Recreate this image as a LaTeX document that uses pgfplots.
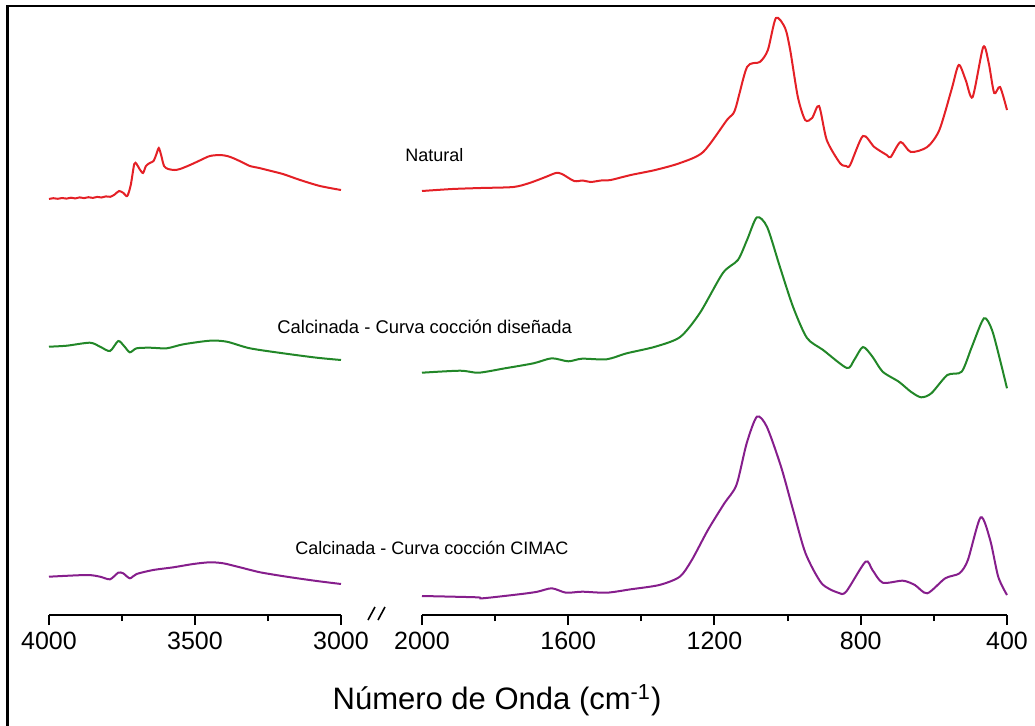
\documentclass[border=0pt]{standalone}
\usepackage{fontspec}
\setmainfont{Liberation Sans}
\usepackage{pgfplots}
\pgfplotsset{compat=1.18}

\definecolor{cnat}{RGB}{228,32,38}
\definecolor{cdis}{RGB}{34,135,40}
\definecolor{ccim}{RGB}{134,30,140}

\pgfplotsset{
  ftir/.style={
    scale only axis, height=304.5pt, ymin=0, ymax=609,
    x dir=reverse, clip=false,
    axis y line=none, axis x line*=bottom,
    axis line style={line width=1pt, black},
    tick align=outside, major tick length=5pt, minor tick length=3pt,
    tick style={line width=1pt, black},
    /pgf/number format/assume math mode=true,
    /pgf/number format/1000 sep={},
    xticklabel style={font=\fontsize{12.5}{14}\selectfont},
    every axis plot/.append style={line width=1pt, smooth, tension=0.45},
  }
}

\begin{document}
\begin{tikzpicture}
\useasboundingbox (0,0) rectangle (517.5pt,362.5pt);

% zona 4000-3000
\begin{axis}[ftir, at={(24.5pt,55pt)}, anchor=south west, width=146pt,
  xmin=3000, xmax=4000, xtick={3000,3500,4000}, minor xtick={3250,3750}]
\addplot[cnat] table {
4000 416
3985 416.8
3970 416.2
3955 417
3940 416.4
3925 417.3
3910 416.6
3895 417.6
3880 416.9
3865 417.8
3850 417.1
3835 418.1
3820 417.5
3805 418.6
3790 418.2
3775 420.5
3760 424
3745 422
3732 419
3720 430
3708 451
3700 451
3690 446
3678 442
3668 449
3655 452
3642 454
3632 461
3624 467
3616 460
3606 449
3592 446
3570 445
3551 446
3517 450
3480 455
3449 459
3414 460
3390 459
3370 457
3340 453
3312 449
3280 447
3253 445
3199 441
3140 435
3072 429
3000 425
};
\addplot[cdis] table {
4000 268.3
3939 269.3
3860 272.3
3825 268.3
3791 264
3763 274
3743 269
3723 262.7
3700 266.7
3654 267.3
3597 266.7
3540 270.7
3449 274.3
3391 273.3
3312 266.7
3198 261.7
3083 257.3
3000 255
};
\addplot[ccim] table {
4000 38.3
3871 40
3825 38.3
3791 35.7
3763 42.3
3746 41.7
3723 36.7
3700 41
3643 45
3574 47.7
3506 51
3449 52.7
3403 51.7
3346 47.7
3277 42.7
3186 38.3
3083 34
3000 31
};
\end{axis}

% zona 2000-400
\begin{axis}[ftir, at={(211pt,55pt)}, anchor=south west, width=292.5pt,
  xmin=400, xmax=2000, xtick={2000,1600,1200,800,400},
  minor xtick={1800,1400,1000,600}]
\addplot[cnat] table {
2000 424
1917 426
1839 427
1750 428
1706 432
1662 438
1634 442
1617 441
1584 434
1560 434.5
1539 433
1510 434.5
1484 435
1429 440
1362 445
1294 452
1231 463
1166 495
1144 505
1111 548
1076 553
1054 565
1032 597
1007 587
993 565
972 518
952 495
933 497
914 509
893 475
857 452
840 449
829 450
794 479
763 468
729 460
718 458
691 473
663 463
618 468
585 485
552 525
532 550
513 535
494 518
465 568
450 552
435 522
419 528
400 505
};
\addplot[cdis] table {
2000 242.3
1895 244.3
1845 242.3
1773 246.7
1695 251.7
1645 256.7
1600 253.7
1562 256.3
1495 255.7
1440 261.7
1362 268.3
1294 278
1240 302
1177 342
1136 355
1111 375
1084 397.7
1056 388
1021 348
985 308
947 277
903 265
838 247
818 255
794 268
768 258.3
740 243.3
696 233.3
663 223.3
635 217.7
607 221.7
563 240
524 243.3
496 268.3
463 296.7
441 285
419 255
400 226.7
};
\addplot[ccim] table {
2000 19
1850 17.7
1834 16.7
1728 21
1684 23.3
1645 26.7
1606 22.3
1562 23.3
1495 22.3
1429 25.7
1351 30
1295 38.3
1262 55
1218 85
1173 111.7
1140 130
1112 171.7
1084 198.3
1057 188.3
1018 148.3
985 105
951 61.7
907 31.7
862 22.3
840 23.3
787 53.3
768 45
740 32.3
685 34.3
652 30
618 21.7
569 36.7
530 41.7
507 55
472 97.7
446 75
424 38.3
400 20
};
\end{axis}

% marco
\draw[line width=1.3pt] (3.8pt,-5pt) -- (3.8pt,359.5pt) -- (530pt,359.5pt);
% corte del eje
\draw[line width=0.8pt] (184pt,52.5pt) -- (187.5pt,59pt);
\draw[line width=0.8pt] (189pt,52.5pt) -- (192.5pt,59pt);

\node[anchor=west, inner sep=0pt, font=\fontsize{9}{11}\selectfont] at (202.5pt,285pt) {Natural};
\node[anchor=west, inner sep=0pt, font=\fontsize{9.2}{11}\selectfont] at (138.5pt,199pt) {Calcinada - Curva cocción diseñada};
\node[anchor=west, inner sep=0pt, font=\fontsize{9}{11}\selectfont] at (147.5pt,88.5pt) {Calcinada - Curva cocción CIMAC};
\node[font=\fontsize{15.5}{18}\selectfont] at (248.5pt,12.5pt) {Número de Onda (cm\textsuperscript{-1})};
\end{tikzpicture}
\end{document}
